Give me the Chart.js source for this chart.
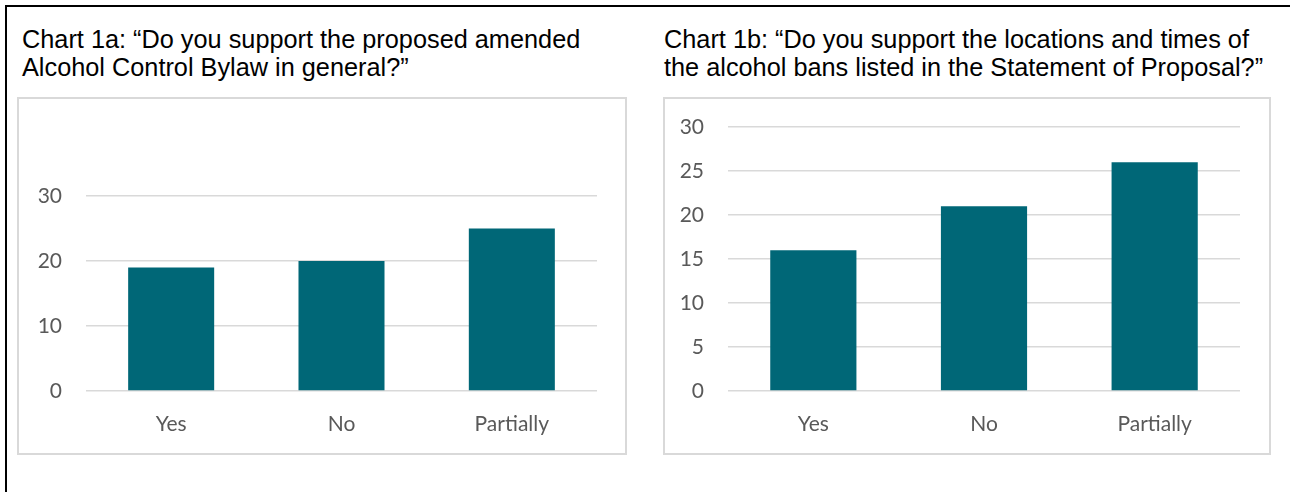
<!DOCTYPE html>
<html>
<head>
<meta charset="utf-8">
<script src="https://cdn.jsdelivr.net/npm/chart.js@4/dist/chart.umd.min.js"></script>
<style>
  body { margin: 0; background: #fff; width: 1290px; height: 492px; overflow: hidden; position: relative; }
  .frame { position: absolute; left: 5px; top: 5px; width: 1400px; height: 600px; border-left: 2px solid #000; border-top: 2px solid #000; }
  .title { position: absolute; font-family: 'Liberation Sans', Arial, sans-serif; font-size: 25.3px; line-height: 28px; color: #000; white-space: nowrap; }
  .box { position: absolute; top: 97px; height: 358px; box-sizing: border-box; border: 2px solid #d9d9d9; }
</style>
</head>
<body>
<div class="frame"></div>
<div class="title" style="left:22px; top:25px;">Chart 1a: “Do you support the proposed amended<br>Alcohol Control Bylaw in general?”</div>
<div class="title" style="left:664px; top:25px;">Chart 1b: “Do you support the locations and times of<br>the alcohol bans listed in the Statement of Proposal?”</div>
<div class="box" style="left:17px; width:610px;"><canvas id="c1"></canvas></div>
<div class="box" style="left:663px; width:608px;"><canvas id="c2"></canvas></div>
<script>
const categories = ['Yes', 'No', 'Partially'];
const generalSupport = [19, 20, 25];
const locationSupport = [16, 21, 26];
const ticks1a = [0, 10, 20, 30];
const ticks1b = [0, 5, 10, 15, 20, 25, 30];

const barColor = '#006777';
const gridColor = '#d9d9d9';
const textColor = '#595959';
const tickFont = { family: "Lato, 'Open Sans', sans-serif", size: 21 };

function plotarBarras(canvas, valores, marcas, padTop, padRight, larguraY) {
  new Chart(canvas, {
    type: 'bar',
    data: {
      labels: categories,
      datasets: [{
        data: valores,
        backgroundColor: barColor,
        borderWidth: 0,
        categoryPercentage: 1,
        barPercentage: 0.505
      }]
    },
    options: {
      responsive: true,
      maintainAspectRatio: false,
      animation: false,
      layout: { padding: { top: padTop, right: padRight, left: 0, bottom: 0 } },
      plugins: { legend: { display: false }, tooltip: { enabled: false } },
      scales: {
        x: {
          grid: { display: false },
          border: { display: false },
          ticks: { color: textColor, font: tickFont, padding: 13 },
          afterFit: (s) => { s.height = 62; s.paddingLeft = 0; s.paddingRight = 0; }
        },
        y: {
          min: marcas[0],
          max: marcas[marcas.length - 1],
          grid: { color: gridColor, lineWidth: 1.5, drawTicks: false },
          border: { display: false },
          ticks: { color: textColor, font: tickFont, padding: 24 },
          afterBuildTicks: (s) => { s.ticks = marcas.map(v => ({ value: v })); },
          afterFit: (s) => { s.width = larguraY; s.paddingTop = 0; s.paddingBottom = 0; }
        }
      }
    }
  });
}

plotarBarras(document.getElementById('c1'), generalSupport, ticks1a, 97, 28, 67);
plotarBarras(document.getElementById('c2'), locationSupport, ticks1b, 28, 29, 63);
</script>
</body>
</html>
